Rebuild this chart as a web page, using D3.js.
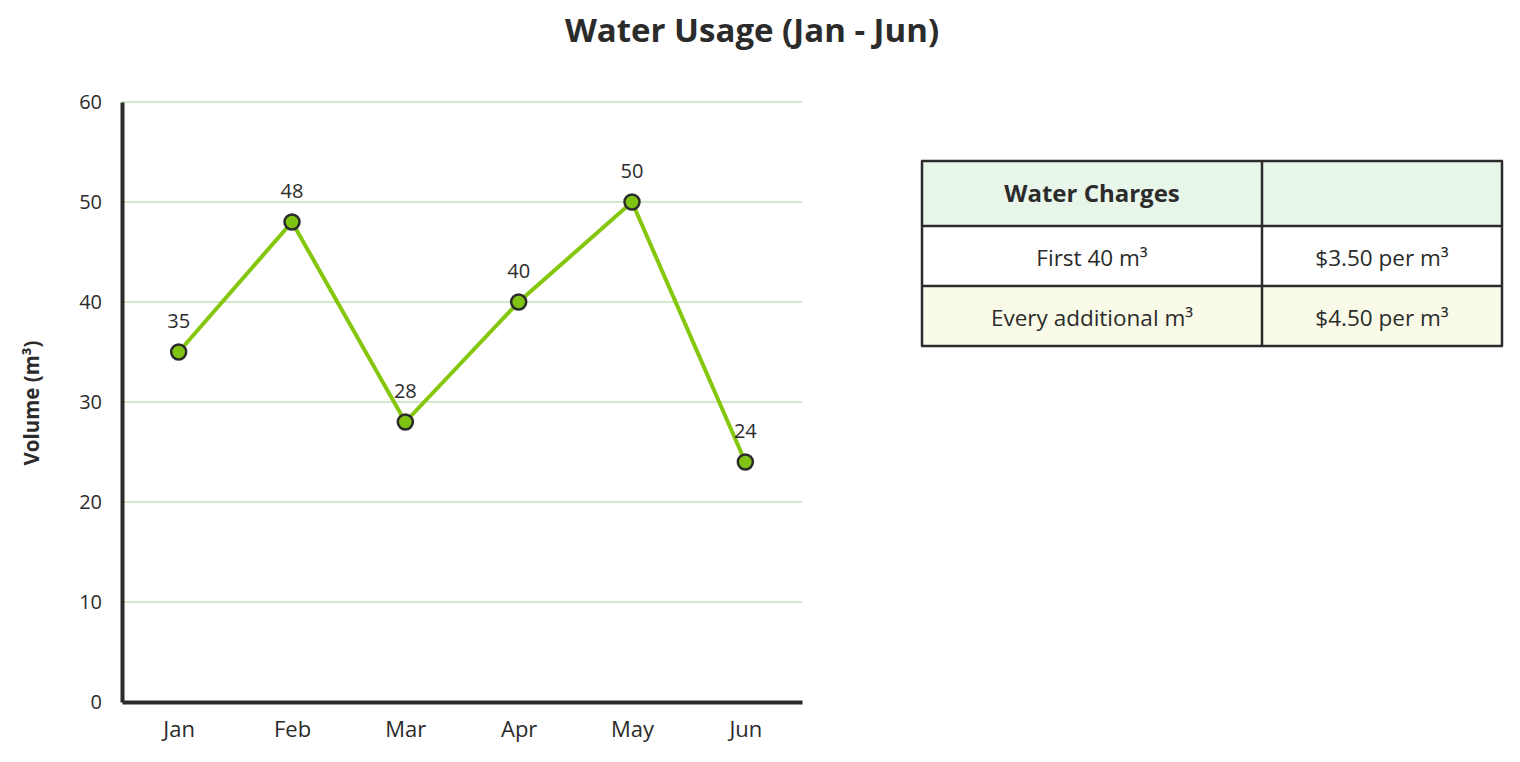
<!DOCTYPE html>
<html>
<head>
<meta charset="utf-8">
<script src="https://cdn.jsdelivr.net/npm/d3@7"></script>
<style>
  body { margin: 0; background: #fff; font-family: "Open Sans", "Noto Sans", sans-serif; }
  text { fill: #2b2b2b; font-family: "Open Sans", "Noto Sans", sans-serif; }
</style>
</head>
<body>
<div id="chart"></div>
<script>
// chart data
let months = ["Jan", "Feb", "Mar", "Apr", "May", "Jun"];
let usage = [35, 48, 28, 40, 50, 24];
let yTicks = [0, 10, 20, 30, 40, 50, 60];

// table data
let tableHeader = ["Water Charges", ""];
let tableTiers = ["First 40 m³", "Every additional m³"];
let tableRates = ["$3.50 per m³", "$4.50 per m³"];

let svgWidth = 1520;
let svgHeight = 762;

let margin = { top: 102, left: 122 };
let width = 680;
let height = 600;

let svg = d3.select("#chart")
  .append("svg")
  .attr("width", svgWidth)
  .attr("height", svgHeight);

// title
svg.append("text")
  .attr("x", 752)
  .attr("y", 42)
  .attr("text-anchor", "middle")
  .style("font-size", "33px")
  .style("font-weight", "bold")
  .text("Water Usage (Jan - Jun)");

let chartGroup = svg.append("g")
  .attr("transform", `translate(${margin.left}, ${margin.top})`);

let xScale = d3.scalePoint()
  .domain(months)
  .range([0, width])
  .padding(0.5);

let yScale = d3.scaleLinear()
  .domain([0, 60])
  .range([height, 0]);

// gridlines
chartGroup.append("g")
  .selectAll("line")
  .data(yTicks.filter(d => d > 0))
  .enter()
  .append("line")
  .attr("x1", 0)
  .attr("x2", width)
  .attr("y1", d => yScale(d))
  .attr("y2", d => yScale(d))
  .attr("stroke", "#d3e8cb")
  .attr("stroke-width", 2);

// axes
let yAxis = d3.axisLeft(yScale).tickValues(yTicks).tickSize(0).tickPadding(20);
let xAxis = d3.axisBottom(xScale).tickSize(0).tickPadding(19);

let yG = chartGroup.append("g").call(yAxis);
yG.select(".domain").attr("stroke", "#2b2b2b").attr("stroke-width", 4);
yG.selectAll("text").style("font-size", "20px").attr("fill", "#2b2b2b");

let xG = chartGroup.append("g").attr("transform", `translate(0,${height})`).call(xAxis);
xG.select(".domain").attr("stroke", "#2b2b2b").attr("stroke-width", 4);
xG.selectAll("text").style("font-size", "22px").attr("fill", "#2b2b2b");

// y axis label
svg.append("text")
  .attr("transform", "rotate(-90)")
  .attr("x", -403)
  .attr("y", 39)
  .attr("text-anchor", "middle")
  .style("font-size", "20.5px")
  .style("font-weight", "bold")
  .text("Volume (m³)");

// line
let line = d3.line()
  .x((d, i) => xScale(months[i]))
  .y(d => yScale(d));

chartGroup.append("path")
  .datum(usage)
  .attr("d", line)
  .attr("fill", "none")
  .attr("stroke", "#84c70c")
  .attr("stroke-width", 4);

// points
chartGroup.selectAll("circle")
  .data(usage)
  .enter()
  .append("circle")
  .attr("cx", (d, i) => xScale(months[i]))
  .attr("cy", d => yScale(d))
  .attr("r", 7.5)
  .attr("fill", "#7fc313")
  .attr("stroke", "#2b2b2b")
  .attr("stroke-width", 2.5);

// value labels
chartGroup.append("g")
  .selectAll("text")
  .data(usage)
  .enter()
  .append("text")
  .attr("x", (d, i) => xScale(months[i]))
  .attr("y", d => yScale(d) - 24)
  .attr("text-anchor", "middle")
  .style("font-size", "20px")
  .text(d => d);

// table
let colX = [922, 1262, 1502];
let rowY = [161, 226, 286, 346];
let rowFill = ["#e8f5e9", "#ffffff", "#f9fbe8"];
let rows = [tableHeader].concat(tableTiers.map((t, i) => [t, tableRates[i]]));

let table = svg.append("g");

table.selectAll("rect.row")
  .data(rows)
  .enter()
  .append("rect")
  .attr("class", "row")
  .attr("x", colX[0])
  .attr("y", (d, i) => rowY[i])
  .attr("width", colX[2] - colX[0])
  .attr("height", (d, i) => rowY[i + 1] - rowY[i])
  .attr("fill", (d, i) => rowFill[i]);

rows.forEach(function(r, i) {
  r.forEach(function(cell, j) {
    table.append("text")
      .attr("x", (colX[j] + colX[j + 1]) / 2)
      .attr("y", (rowY[i] + rowY[i + 1]) / 2 + (i === 0 ? 8 : 10))
      .attr("text-anchor", "middle")
      .style("font-size", i === 0 ? "24px" : "22.5px")
      .style("font-weight", i === 0 ? "bold" : "normal")
      .text(cell);
  });
});

// table borders
rowY.forEach(function(y) {
  table.append("line")
    .attr("x1", colX[0] - 1).attr("x2", colX[2] + 1)
    .attr("y1", y).attr("y2", y)
    .attr("stroke", "#2b2b2b").attr("stroke-width", 2.5);
});
colX.forEach(function(x) {
  table.append("line")
    .attr("x1", x).attr("x2", x)
    .attr("y1", rowY[0]).attr("y2", rowY[3])
    .attr("stroke", "#2b2b2b").attr("stroke-width", 2.5);
});
</script>
</body>
</html>
